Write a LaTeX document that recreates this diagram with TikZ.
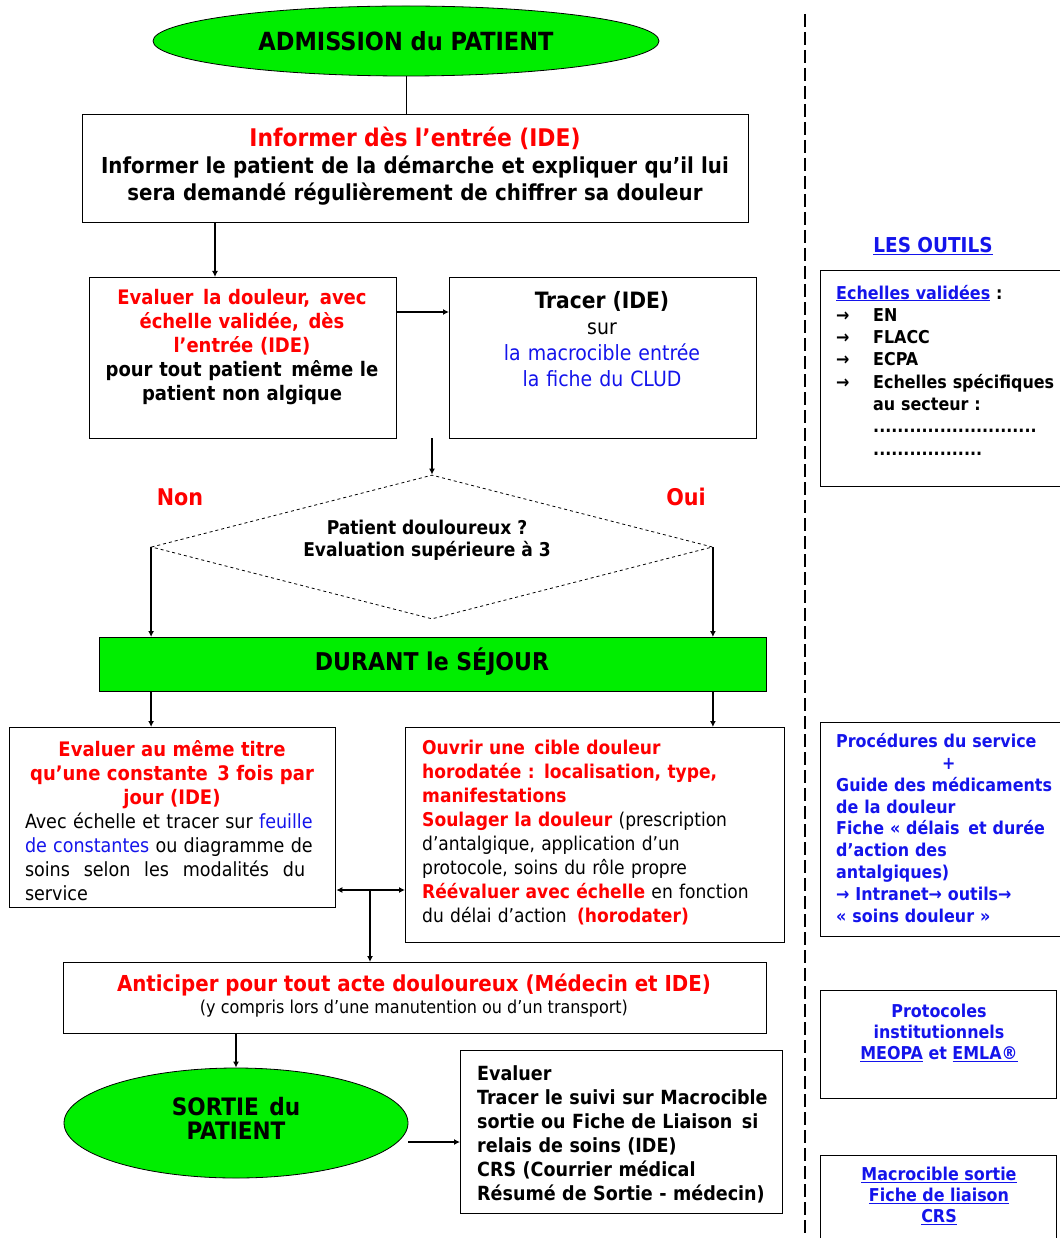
\documentclass[tikz,border=0pt]{standalone}
\usepackage{fontspec}
\setmainfont{DejaVu Sans Condensed}
\usetikzlibrary{shapes.geometric,arrows.meta}
\definecolor{lime}{RGB}{0,238,0}
\definecolor{rd}{RGB}{255,0,0}
\definecolor{bl}{RGB}{20,20,235}
\newcommand\redb[1]{\textcolor{rd}{\bfseries #1}}
\newcommand\blu[1]{\textcolor{bl}{#1}}
\newcommand\fs[2]{\fontsize{#1}{#2}\selectfont}
\newcommand\gap{\hspace{0pt plus 1fil}}
\tikzset{
  box/.style={draw, line width=1.3pt, inner sep=0pt, anchor=north west},
  txt/.style={inner sep=0pt},
  arr/.style={line width=2.2pt, -{Latex[length=6pt,width=6pt]}},
  oval/.style={ellipse, draw, line width=0.8pt, fill=lime, inner sep=0pt},
}
\begin{document}
\begin{tikzpicture}[x=1pt,y=-1pt]
\useasboundingbox (0,0) rectangle (1059,1238);
% ---------- left flow ----------
\node[oval, minimum width=506pt, minimum height=70pt, font=\fs{25}{28}\bfseries] (adm) at (406,41) {ADMISSION du PATIENT};
\node[box, minimum width=666pt, minimum height=108pt] (inf) at (82,114) {};
\node[txt, text width=660pt, align=center, font=\fs{22}{27}\bfseries] (infT) at (415,166)
  {\textcolor{rd}{\fs{24.3}{27}Informer dès l’entrée (IDE)}\\
   Informer le patient  de la démarche  et expliquer qu’il lui\\
   sera demandé régulièrement de chiffrer sa douleur};
\node[box, minimum width=307pt, minimum height=161pt] (ev) at (89,277) {};
\node[txt, text width=300pt, align=center, font=\fs{20}{24}\bfseries] (evT) at (242,347)
  {\redb{Evaluer\hspace{3pt} la douleur,\hspace{3pt} avec}\\
   \redb{échelle validée,\hspace{3pt} dès}\\
   \redb{l’entrée (IDE)}\\
   pour tout patient\hspace{3pt} même le\\
   patient non algique};
\node[box, minimum width=307pt, minimum height=161pt] (tr) at (449,277) {};
\node[txt, text width=300pt, align=center, font=\fs{21}{26}] (trT) at (602,339)
  {{\bfseries\fs{22.5}{26}Tracer (IDE)}\\
   sur\\
   \blu{la macrocible entrée}\\
   \blu{la fiche du CLUD}};
\node[diamond, draw, dashed, line width=0.8pt, minimum width=561pt, minimum height=144pt, inner sep=0pt] (dia) at (432,547) {};
\node[txt, align=center, font=\fs{19}{22}\bfseries] (diaT) at (427,540)
  {Patient douloureux ?\\ Evaluation supérieure à 3};
\node[txt, font=\fs{23}{24}\bfseries, text=rd] (non) at (180,497) {Non};
\node[txt, font=\fs{23}{24}\bfseries, text=rd] (oui) at (686,497) {Oui};
\node[box, fill=lime, minimum width=667pt, minimum height=54pt] (dur) at (99,637) {};
\node[txt, font=\fs{24.5}{26}\bfseries] (durT) at (432,662) {DURANT le SÉJOUR};
\node[box, minimum width=326pt, minimum height=180pt] (le) at (9,727) {};
\node[txt, text width=294pt, align=center, font=\fs{19.5}{24}] (leT) at (172,821)
  {{\fs{20}{24}\redb{Evaluer au même titre}}\\
   {\fs{20}{24}\redb{qu’une constante\hspace{3pt} 3 fois par}}\\
   {\fs{20}{24}\redb{jour (IDE)}}\\
   \makebox[294pt][l]{Avec\gap échelle\gap et\gap tracer\gap sur\gap \blu{feuille}}\\
   \makebox[294pt][l]{\blu{de\gap constantes}\gap ou\gap diagramme\gap de}\\
   \makebox[294pt][l]{soins\gap selon\gap les\gap modalités\gap du}\\
   \makebox[294pt][l]{service}};
\node[box, minimum width=379pt, minimum height=215pt] (ri) at (405,727) {};
\node[txt, anchor=west, text width=370pt, align=left, font=\fs{19}{24}] (riT) at (422,833)
  {\redb{Ouvrir une\hspace{3pt} cible douleur}\\
   \redb{horodatée : localisation, type,}\\
   \redb{manifestations}\\
   \redb{Soulager la douleur} (prescription\\
   d’antalgique, application d’un\\
   protocole, soins du rôle propre\\
   \redb{Réévaluer avec échelle} en fonction\\
   du délai d’action\hspace{4pt} \redb{(horodater)}};
\coordinate (j) at (370,890);
\node[box, minimum width=703pt, minimum height=71pt] (ant) at (63,962) {};
\node[txt, align=center, font=\fs{17.8}{22}] (antT) at (414,996)
  {\redb{\fs{22}{22}Anticiper pour tout acte douloureux (Médecin et IDE)}\\
   (y compris lors d’une manutention ou d’un transport)};
\node[oval, minimum width=344pt, minimum height=110pt] (so) at (236,1123) {};
\node[txt, align=center, font=\fs{24}{24}\bfseries] (soT) at (236,1118)
  {SORTIE\hspace{3pt} du\\ PATIENT};
\node[box, minimum width=322pt, minimum height=163pt] (sb) at (460,1050) {};
\node[txt, anchor=west, text width=315pt, align=left, font=\fs{19.5}{24}\bfseries] (sbT) at (477,1134)
  {Evaluer\\
   Tracer le suivi sur Macrocible\\
   sortie ou Fiche de Liaison\hspace{3pt} si\\
   relais de soins (IDE)\\
   CRS (Courrier médical\\
   Résumé de Sortie - médecin)};
% ---------- connectors ----------
\draw[line width=0.8pt] (adm.south) -- (adm.south |- inf.north);
\draw[arr] (inf.south -| 215,0) -- (ev.north -| 215,0);
\draw[arr] (ev.east |- 0,312) -- (tr.west |- 0,312);
\coordinate (g) at (432,438);
\draw[arr] (g) -- (dia.north);
\draw[arr] (dia.west) -- (dia.west |- dur.north);
\draw[arr] (dia.east) -- (dia.east |- dur.north);
\draw[arr] (dur.south -| dia.west) -- (le.north -| dia.west);
\draw[arr] (dur.south -| dia.east) -- (ri.north -| dia.east);
\draw[arr] (j) -- (le.east |- j);
\draw[arr] (j) -- (ri.west |- j);
\draw[arr] (j) -- (j |- ant.north);
\draw[arr] (ant.south -| so.north) -- (so.north);
\draw[arr] (so.east |- 0,1142) -- (sb.west |- 0,1142);
% ---------- right column ----------
\coordinate (dtop) at (805,14);
\coordinate (dbot) at (805,1238);
\draw[line width=2.8pt, dash pattern=on 13pt off 5pt] (dtop) -- (dbot);
\node[txt, font=\fs{20.5}{22}\bfseries] (outils) at (933,246) {\blu{\underline{LES OUTILS}}};
\node[box, minimum width=250pt, minimum height=216pt] (r1) at (820,270) {};
\node[txt, anchor=west, text width=236pt, align=left, font=\fs{17.7}{22.3}\bfseries] (r1T) at (836,370)
  {\blu{\underline{Echelles validées}} :\\
   \makebox[37pt][l]{→}EN\\
   \makebox[37pt][l]{→}FLACC\\
   \makebox[37pt][l]{→}ECPA\\
   \makebox[37pt][l]{→}Echelles spécifiques\\
   \hspace*{37pt}au secteur :\\
   \hspace*{37pt}...........................\\
   \hspace*{37pt}..................};
\node[box, minimum width=250pt, minimum height=214pt] (r2) at (820,722) {};
\node[txt, anchor=west, text width=236pt, align=left, font=\fs{17.7}{21.9}\bfseries, text=bl] (r2T) at (836,828)
  {Procédures du service\\
   \hspace*{106pt}+\\
   Guide des médicaments\\
   de la douleur\\
   Fiche « délais\hspace{3pt} et durée\\
   d’action des\\
   antalgiques)\\
   → Intranet→ outils→\\
   « soins douleur »};
\node[box, minimum width=236pt, minimum height=108pt] (r3) at (820,990) {};
\node[txt, align=center, font=\fs{17.7}{21}\bfseries, text=bl] (r3T) at (939,1033)
  {Protocoles\\ institutionnels\\ \underline{MEOPA} et \underline{EMLA®}};
\node[box, minimum width=236pt, minimum height=100pt] (r4) at (820,1155) {};
\node[txt, align=center, font=\fs{17.7}{21}\bfseries, text=bl] (r4T) at (939,1196)
  {\underline{Macrocible sortie}\\ \underline{Fiche de liaison}\\ \underline{CRS}};
\end{tikzpicture}
\end{document}
